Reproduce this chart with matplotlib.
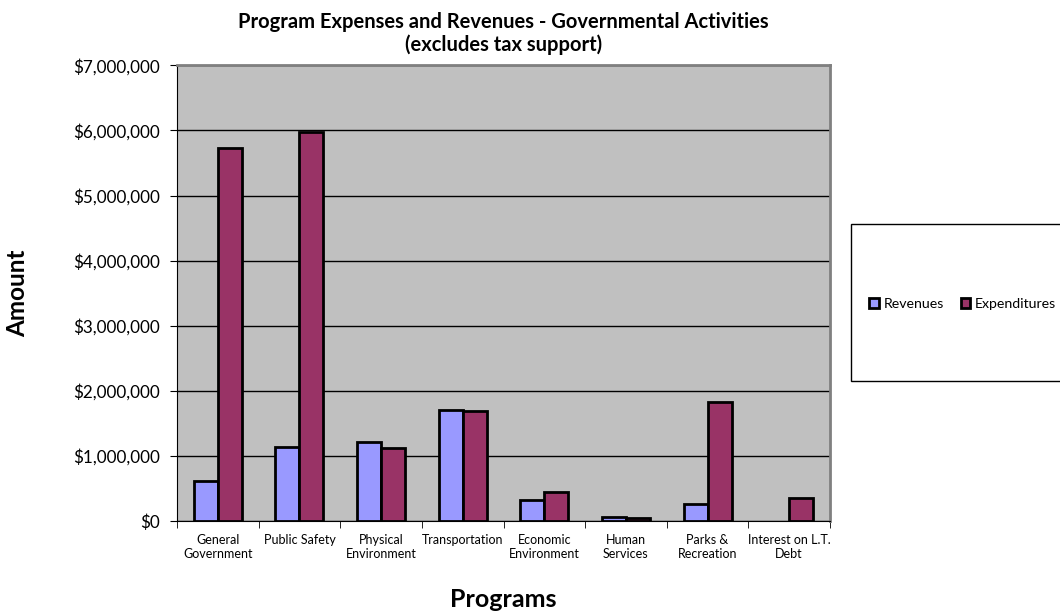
import numpy as np
import matplotlib
matplotlib.use("Agg")
import matplotlib.pyplot as plt
from matplotlib.patches import Rectangle
from matplotlib.ticker import FuncFormatter, FixedLocator

plt.rcParams['font.family'] = ['Lato', 'DejaVu Sans']

# Data
programs = ["General\nGovernment", "Public Safety", "Physical\nEnvironment",
            "Transportation", "Economic\nEnvironment", "Human\nServices",
            "Parks &\nRecreation", "Interest on L.T.\nDebt"]
revenues = [610000, 1140000, 1220000, 1700000, 330000, 70000, 270000, 0]
expenditures = [5730000, 5970000, 1120000, 1690000, 440000, 50000, 1830000, 350000]

fig = plt.figure(figsize=(10.6, 6.16), dpi=100)
ax = fig.add_axes([0.167, 0.154, 0.616, 0.740])
ax.set_facecolor("#C0C0C0")

x = np.arange(len(programs))
w = 0.294
# zero-height bars are not drawn in the original
ax.bar(x - w / 2, revenues, w, color="#9999FF", edgecolor="black",
       linewidth=[2 if v else 0 for v in revenues], label="Revenues", zorder=3)
ax.bar(x + w / 2, expenditures, w, color="#993366", edgecolor="black",
       linewidth=[2 if v else 0 for v in expenditures], label="Expenditures", zorder=3)

ax.set_xlim(-0.5, len(programs) - 0.5)
ax.set_ylim(0, 7000000)
ax.set_yticks(np.arange(0, 7000001, 1000000))
ax.yaxis.set_major_formatter(FuncFormatter(lambda v, p: "${:,.0f}".format(v)))
ax.grid(axis="y", color="black", linewidth=1, zorder=1)

ax.set_xticks(x)
ax.set_xticklabels(programs, fontsize=9, linespacing=1.25)
ax.tick_params(axis="x", length=0, pad=9)
ax.xaxis.set_minor_locator(FixedLocator(np.arange(-0.5, len(programs), 1)))
ax.tick_params(axis="x", which="minor", length=5, color="black")
ax.tick_params(axis="y", labelsize=12.3, length=5, pad=7, color="black")

for s in ["top", "right"]:
    ax.spines[s].set_color("#808080")
    ax.spines[s].set_linewidth(2)
ax.spines["left"].set_color("black")
ax.spines["bottom"].set_color("black")

ax.set_title("Program Expenses and Revenues - Governmental Activities\n(excludes tax support)",
             fontsize=14.5, fontweight="bold", pad=10, linespacing=1.15)
fig.text(0.017, 0.524, "Amount", rotation=90, fontsize=17.5, fontweight="bold",
         ha="center", va="center")
fig.text(0.475, 0.027, "Programs", fontsize=18, fontweight="bold",
         ha="center", va="center")

# legend box
fig.patches.append(Rectangle((0.803, 0.381), 0.22, 0.256, transform=fig.transFigure,
                             facecolor="white", edgecolor="black", linewidth=1))
fig.legend(loc="center", bbox_to_anchor=(0.908, 0.506), ncol=2, frameon=False,
           fontsize=10.2, handlelength=0.7, handleheight=0.7, handletextpad=0.3,
           columnspacing=1.2)

fig.savefig("out.png", dpi=100)
